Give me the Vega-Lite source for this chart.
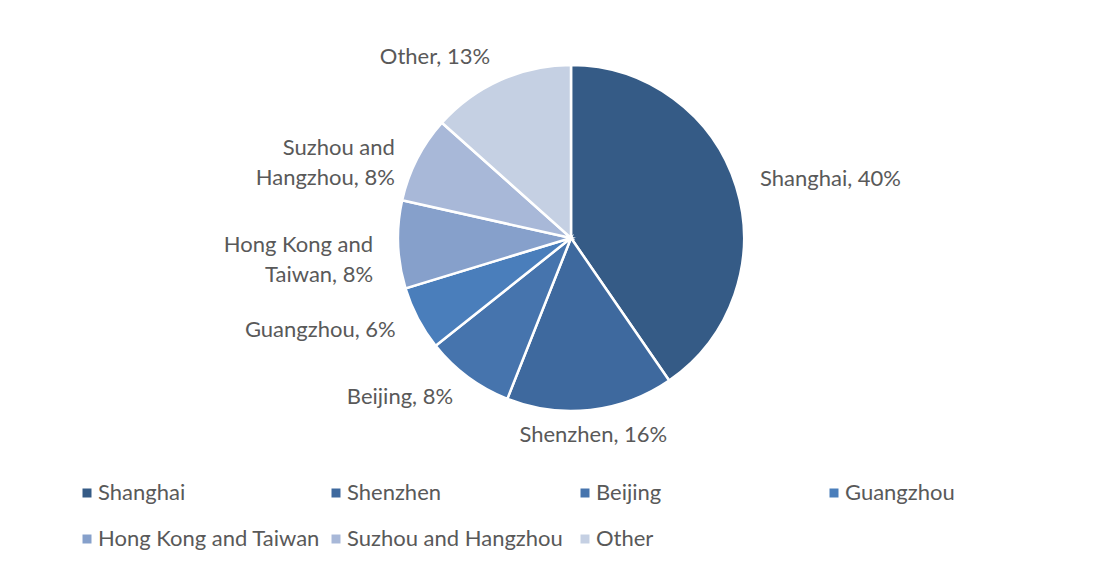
{
  "$schema": "https://vega.github.io/schema/vega-lite/v6.json",
  "width": 1098,
  "height": 476,
  "autosize": {"type": "none"},
  "padding": {"left": 22, "top": 0, "right": 0, "bottom": 95},
  "background": "white",
  "config": {"view": {"stroke": null}},
  "data": {
    "values": [
      {"category": "Shanghai", "rank": 1, "value": 40.4, "label": "Shanghai, 40%"},
      {"category": "Shenzhen", "rank": 2, "value": 15.6, "label": "Shenzhen, 16%"},
      {"category": "Beijing", "rank": 3, "value": 8.3, "label": "Beijing, 8%"},
      {"category": "Guangzhou", "rank": 4, "value": 6.0, "label": "Guangzhou, 6%"},
      {"category": "Hong Kong and Taiwan", "rank": 5, "value": 8.2, "label": "Hong Kong and\nTaiwan, 8%"},
      {"category": "Suzhou and Hangzhou", "rank": 6, "value": 8.1, "label": "Suzhou and\nHangzhou, 8%"},
      {"category": "Other", "rank": 7, "value": 13.4, "label": "Other, 13%"}
    ]
  },
  "encoding": {
    "theta": {"field": "value", "type": "quantitative", "stack": true},
    "order": {"field": "rank", "type": "quantitative", "sort": "ascending"}
  },
  "layer": [
    {
      "mark": {"type": "arc", "outerRadius": 173, "stroke": "white", "strokeWidth": 2.5},
      "encoding": {
        "color": {
          "field": "category",
          "type": "nominal",
          "sort": ["Shanghai", "Shenzhen", "Beijing", "Guangzhou", "Hong Kong and Taiwan", "Suzhou and Hangzhou", "Other"],
          "scale": {"range": ["#355b86", "#3e699e", "#4674ad", "#4a7ebb", "#86a0cb", "#a8b8d8", "#c5d0e3"]},
          "legend": {
            "orient": "none",
            "direction": "horizontal",
            "legendX": 54,
            "legendY": 482,
            "title": null,
            "columns": 4,
            "gridAlign": "all",
            "columnPadding": 4,
            "rowPadding": 24,
            "padding": 0,
            "symbolType": "square",
            "symbolSize": 81,
            "symbolStrokeWidth": 0,
            "labelOffset": 0,
            "labelFont": "Lato",
            "labelFontSize": 22,
            "labelColor": "#595959",
            "labelLimit": 400
          }
        }
      }
    },
    {
      "mark": {
        "type": "text",
        "radius": 198,
        "font": "Lato",
        "fontSize": 22,
        "lineBreak": "\n",
        "lineHeight": 30,
        "baseline": "middle",
        "color": "#595959",
        "align": {"expr": "abs((datum.value_start + datum.value_end) / 200 - 0.5) < 0.05 ? 'center' : ((datum.value_start + datum.value_end) / 200 < 0.5 ? 'left' : 'right')"}
      },
      "encoding": {
        "text": {"field": "label", "type": "nominal"},
        "detail": {"field": "category", "type": "nominal"}
      }
    }
  ]
}
